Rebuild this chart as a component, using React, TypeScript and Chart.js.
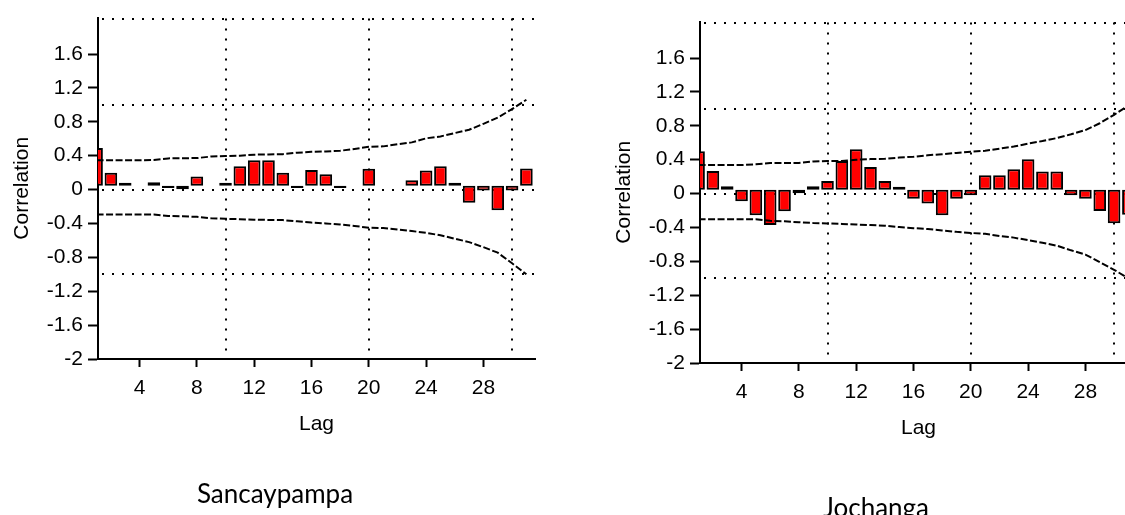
import { useEffect, useRef } from 'react';
import { Chart, registerables } from 'chart.js';

Chart.register(...registerables);

// Lags shown on the horizontal axis
const LAGS = [1, 2, 3, 4, 5, 6, 7, 8, 9, 10, 11, 12, 13, 14, 15, 16, 17, 18, 19, 20, 21, 22, 23, 24, 25, 26, 27, 28, 29, 30, 31];

// Sancaypampa autocorrelation and its confidence band
const SANCAYPAMPA_ACF = [0.49, 0.2, 0.08, 0.045, 0.085, 0.02, 0.005, 0.155, 0.045, 0.08, 0.275, 0.345, 0.345, 0.2, 0.02, 0.23, 0.18, 0.02, 0.045, 0.245, 0.045, 0.045, 0.11, 0.225, 0.275, 0.08, -0.155, -0.01, -0.245, -0.01, 0.25];
const SANCAYPAMPA_UPPER = [0.345, 0.345, 0.345, 0.345, 0.35, 0.368, 0.37, 0.372, 0.39, 0.395, 0.4, 0.412, 0.415, 0.418, 0.435, 0.445, 0.45, 0.458, 0.48, 0.505, 0.51, 0.535, 0.557, 0.605, 0.627, 0.667, 0.706, 0.776, 0.85, 0.95, 1.06];
const SANCAYPAMPA_LOWER = [-0.294, -0.294, -0.294, -0.294, -0.294, -0.312, -0.316, -0.322, -0.338, -0.345, -0.35, -0.355, -0.358, -0.36, -0.375, -0.39, -0.4, -0.413, -0.43, -0.45, -0.455, -0.47, -0.49, -0.51, -0.54, -0.58, -0.62, -0.68, -0.745, -0.87, -1.0];

// Jochanga autocorrelation and its confidence band
const JOCHANGA_ACF = [0.5, 0.265, 0.085, -0.09, -0.255, -0.372, -0.208, 0.005, 0.085, 0.148, 0.385, 0.522, 0.313, 0.148, 0.08, -0.06, -0.118, -0.255, -0.06, -0.02, 0.215, 0.215, 0.288, 0.405, 0.262, 0.262, -0.02, -0.06, -0.206, -0.35, -0.25];
const JOCHANGA_UPPER = [0.337, 0.337, 0.337, 0.337, 0.345, 0.36, 0.36, 0.362, 0.378, 0.384, 0.385, 0.4, 0.407, 0.41, 0.425, 0.435, 0.452, 0.465, 0.48, 0.495, 0.505, 0.53, 0.555, 0.59, 0.62, 0.655, 0.7, 0.75, 0.83, 0.93, 1.04];
const JOCHANGA_LOWER = [-0.302, -0.302, -0.302, -0.302, -0.302, -0.322, -0.328, -0.338, -0.347, -0.352, -0.358, -0.365, -0.372, -0.38, -0.395, -0.408, -0.418, -0.435, -0.452, -0.465, -0.475, -0.5, -0.52, -0.55, -0.58, -0.615, -0.67, -0.72, -0.81, -0.9, -1.0];

// Bars rise from this level rather than from zero
const BAR_BASE = 0.045;

const Y_TICKS = [-2, -1.6, -1.2, -0.8, -0.4, 0, 0.4, 0.8, 1.2, 1.6];
const X_TICKS = [4, 8, 12, 16, 20, 24, 28];
const REF_Y = [1, 0, -1];
const REF_X = [10, 20, 30];
const Y_MIN = -2;
const Y_MAX = 2.03;
const X_MIN = 1.1;
const X_MAX = 31.6;

const AXIS_FONT = { family: "'Liberation Sans', Arial, sans-serif", size: 21 };

const dottedGrid = {
  id: 'dottedGrid',
  beforeDatasetsDraw(chart: any) {
    const { ctx, chartArea: a, scales } = chart;
    const xs = scales.x;
    const ys = scales.y;
    ctx.save();
    ctx.strokeStyle = '#000';
    ctx.lineWidth = 2;
    ctx.setLineDash([2, 8]);
    const rows = [a.top + 1, ...REF_Y.map((v) => ys.getPixelForValue(v))];
    for (const py of rows) {
      const yy = Math.round(py);
      ctx.beginPath();
      ctx.moveTo(a.left + 4, yy);
      ctx.lineTo(a.right, yy);
      ctx.stroke();
    }
    for (const v of REF_X) {
      const xx = Math.round(xs.getPixelForValue(v));
      ctx.beginPath();
      ctx.moveTo(xx, a.top + 1);
      ctx.lineTo(xx, a.bottom);
      ctx.stroke();
    }
    ctx.restore();
  },
};

function buildConfig(acf: number[], upper: number[], lower: number[]): any {
  const band = (vals: number[]) => ({
    type: 'line',
    data: LAGS.map((lag, i) => ({ x: lag, y: vals[i] })),
    borderColor: '#000',
    borderWidth: 2,
    borderDash: [7, 2.5],
    pointRadius: 0,
    fill: false,
    tension: 0,
    order: 0,
    clip: 0,
  });
  return {
    type: 'bar',
    data: {
      datasets: [
        band(upper),
        band(lower),
        {
          type: 'bar',
          data: LAGS.map((lag, i) => ({ x: lag, y: [BAR_BASE, acf[i]] })),
          backgroundColor: '#ff0000',
          borderColor: '#000',
          borderWidth: 2,
          borderSkipped: false,
          barPercentage: 0.88,
          categoryPercentage: 1,
          order: 1,
          clip: 0,
        },
      ],
    },
    options: {
      animation: false,
      responsive: false,
      events: [],
      layout: { padding: { top: 17, right: 25, left: 0, bottom: 0 } },
      plugins: { legend: { display: false }, tooltip: { enabled: false } },
      scales: {
        x: {
          type: 'linear',
          min: X_MIN,
          max: X_MAX,
          offset: false,
          z: 1,
          afterBuildTicks: (s: any) => {
            s.ticks = X_TICKS.map((v) => ({ value: v }));
          },
          afterFit: (s: any) => {
            s.height = 156;
          },
          grid: { offset: false, drawOnChartArea: false, drawTicks: true, tickLength: 8, tickWidth: 2, tickColor: '#000' },
          border: { display: true, color: '#000', width: 2 },
          ticks: { color: '#000', font: AXIS_FONT, padding: 9, maxRotation: 0, autoSkip: false, callback: (v: any) => String(v) },
          title: { display: true, text: 'Lag', color: '#000', font: AXIS_FONT, padding: { top: 0, bottom: 78 } },
        },
        y: {
          type: 'linear',
          min: Y_MIN,
          max: Y_MAX,
          z: 1,
          afterBuildTicks: (s: any) => {
            s.ticks = Y_TICKS.map((v) => ({ value: v }));
          },
          afterFit: (s: any) => {
            s.width = 98;
          },
          grid: { drawOnChartArea: false, drawTicks: true, tickLength: 10, tickWidth: 2, tickColor: '#000' },
          border: { display: true, color: '#000', width: 2 },
          ticks: { color: '#000', font: AXIS_FONT, padding: 5, autoSkip: false, callback: (v: any) => String(Math.round(v * 10) / 10) },
          title: { display: true, text: 'Correlation', color: '#000', font: AXIS_FONT, padding: { top: 10, bottom: 0 } },
        },
      },
    },
    plugins: [dottedGrid],
  };
}

function AcfChart(props: { acf: number[]; upper: number[]; lower: number[]; left: number; top: number }) {
  const ref = useRef<HTMLCanvasElement | null>(null);
  useEffect(() => {
    if (!ref.current) return;
    const chart = new Chart(ref.current, buildConfig(props.acf, props.upper, props.lower));
    return () => chart.destroy();
  }, []);
  return (
    <canvas
      ref={ref}
      width={560}
      height={515}
      style={{ position: 'absolute', left: props.left, top: props.top, width: 560, height: 515 }}
    />
  );
}

const captionStyle: any = {
  position: 'absolute',
  width: 300,
  textAlign: 'center',
  fontFamily: "Lato, 'Open Sans', sans-serif",
  fontSize: 26,
  lineHeight: '30px',
  color: '#000',
  whiteSpace: 'nowrap',
};

export default function App() {
  return (
    <div
      style={{
        position: 'fixed',
        left: 0,
        top: 0,
        width: 1125,
        height: 515,
        overflow: 'hidden',
        background: '#fff',
      }}
    >
      <AcfChart acf={SANCAYPAMPA_ACF} upper={SANCAYPAMPA_UPPER} lower={SANCAYPAMPA_LOWER} left={0} top={0} />
      <AcfChart acf={JOCHANGA_ACF} upper={JOCHANGA_UPPER} lower={JOCHANGA_LOWER} left={602} top={4} />
      <div style={{ ...captionStyle, left: 275 - 150, top: 478 }}>Sancaypampa</div>
      <div style={{ ...captionStyle, left: 876 - 150, top: 492 }}>Jochanga</div>
    </div>
  );
}
